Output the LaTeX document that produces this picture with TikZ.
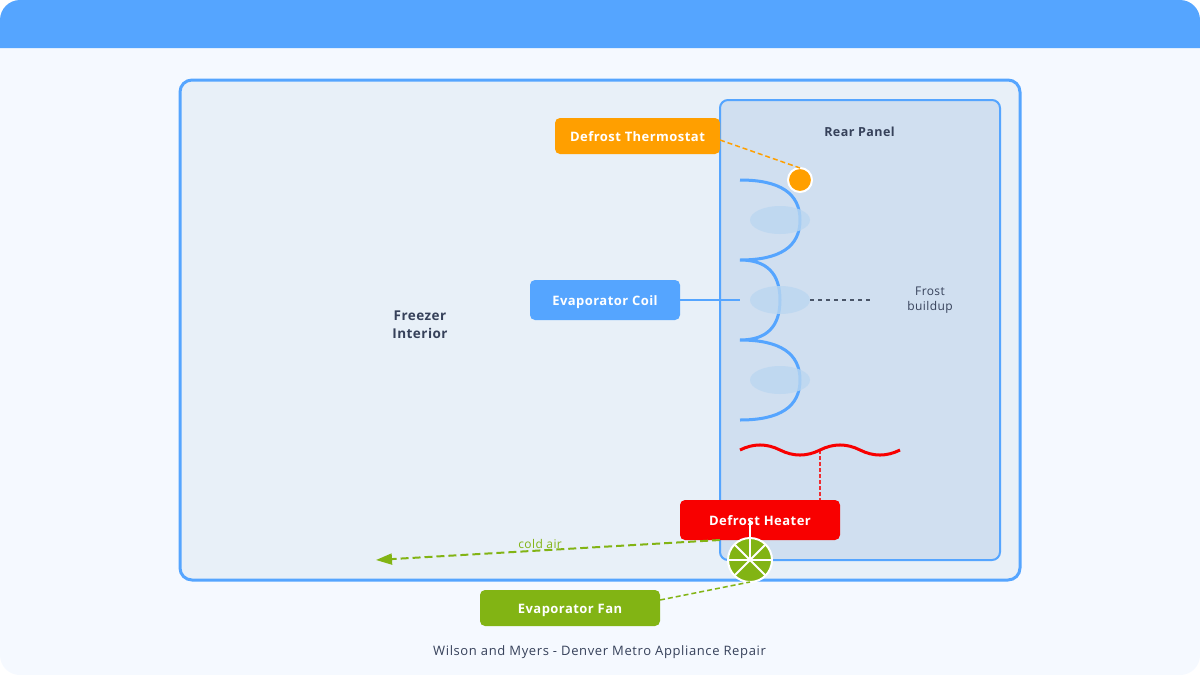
\documentclass[tikz,border=0pt]{standalone}
\usepackage{fontspec}
\setmainfont{Open Sans}
\newfontfamily\boxfont[LetterSpace=3.5]{Open Sans}
\newfontfamily\spacedfont[LetterSpace=3.5]{Open Sans}
\newfontfamily\footfont[LetterSpace=4.8]{Open Sans}
\usepackage{xcolor}
\usetikzlibrary{arrows.meta, shapes.geometric}

\definecolor{coilblue}{HTML}{55A5FF}
\definecolor{cardbg}{HTML}{F5F9FF}
\definecolor{freezerbg}{HTML}{E8F0F8}
\definecolor{rearbg}{HTML}{D0DFF0}
\definecolor{frostfill}{HTML}{BBD7F0}
\definecolor{thermoorange}{HTML}{FF9F00}
\definecolor{heaterred}{HTML}{F80000}
\definecolor{fangreen}{HTML}{82B414}
\definecolor{darktext}{HTML}{36415A}
\definecolor{frostline}{HTML}{4A5568}

\tikzset{
    panel/.style={draw=coilblue, inner sep=0, outer sep=0},
    tagbox/.style={inner sep=0, outer sep=0, rounded corners=5, text=white, text height=10, text depth=0, font=\boxfont\bfseries\fontsize{13}{15}\selectfont},
    frost/.style={ellipse, fill=frostfill, minimum width=60, minimum height=28, inner sep=0, outer sep=0},
    plain/.style={text=darktext, align=center, inner sep=0, font=\spacedfont\fontsize{12}{15}\selectfont},
    spoke/.style={white, line width=2}
}

\begin{document}
\begin{tikzpicture}[x=1pt, y=-1pt]
    \useasboundingbox (0, 0) rectangle (1200, 675);
    \fill[white] (0, 0) rectangle (1200, 675);
    \fill[cardbg, rounded corners=20] (0, 0) rectangle (1200, 675);
    \fill[coilblue] (0, 48) [rounded corners=20] -- (0, 0) -- (1200, 0) [sharp corners] -- (1200, 48) -- cycle;

    \node[panel, line width=3, rounded corners=12, fill=freezerbg, minimum width=840, minimum height=500] (freezer) at (600, 330) {};
    \node[panel, line width=2, rounded corners=8, fill=rearbg, minimum width=280, minimum height=460] (rear) at (860, 330) {};

    \node[plain, font=\spacedfont\bfseries\fontsize{13.5}{18}\selectfont] (interior) at (420, 325) {Freezer\\Interior};
    \node[plain, font=\spacedfont\bfseries\fontsize{12.5}{14}\selectfont] (reartitle) at (859.5, 132) {Rear Panel};

    % coil
    \coordinate (coiltop) at (740, 180);
    \coordinate (coilin) at (740, 300);
    \draw[coilblue, line width=3] (coiltop)
        .. controls (780, 180) and (800, 193.3) .. (800, 220)
        .. controls (800, 246.7) and (780, 260) .. (740, 260)
        .. controls (766.7, 260) and (780, 273.3) .. (780, 300)
        .. controls (780, 326.7) and (766.7, 340) .. (740, 340)
        .. controls (780, 340) and (800, 353.3) .. (800, 380)
        .. controls (800, 406.7) and (780, 420) .. (740, 420);

    \node[frost, opacity=0.8] (frost1) at (780, 220) {};
    \node[frost, opacity=0.8] (frost2) at (780, 300) {};
    \node[frost, opacity=0.8] (frost3) at (780, 380) {};

    \coordinate (frostend) at (870, 300);
    \draw[frostline, line width=1.5, dash pattern=on 4 off 4] (frost2) -- (frostend);
    \node[plain] (frostlabel) at (930, 300) {Frost\\buildup};

    \node[tagbox, fill=coilblue, minimum width=150, minimum height=40] (coil) at (605, 300) {Evaporator Coil};
    \draw[coilblue, line width=2] (coil) -- (coilin);

    % thermostat
    \node[tagbox, fill=thermoorange, minimum width=165, minimum height=36] (thermo) at (637.5, 136) {Defrost Thermostat};
    \node[circle, fill=thermoorange, draw=white, line width=2, minimum size=24, inner sep=0, outer sep=0] (sensor) at (800, 180) {};
    \coordinate (thermoend) at (720, 140);
    \draw[thermoorange, line width=1.5, dash pattern=on 5 off 3] (thermoend) -- (sensor.north);

    % heater
    \coordinate (wavestart) at (740, 450);
    \coordinate (wavedrop) at (820, 450);
    \draw[heaterred, line width=3] (wavestart)
        .. controls (753.3, 443.3) and (766.7, 443.3) .. (780, 450)
        .. controls (793.3, 456.7) and (806.7, 456.7) .. (wavedrop)
        .. controls (833.3, 443.3) and (846.7, 443.3) .. (860, 450)
        .. controls (873.3, 456.7) and (886.7, 456.7) .. (900, 450);
    \node[tagbox, fill=heaterred, minimum width=160, minimum height=40] (heater) at (760, 520) {Defrost Heater};
    \coordinate (heatertop) at (820, 500);
    \draw[heaterred, opacity=0.8, line width=2, dash pattern=on 4 off 2] (wavedrop) -- (heatertop);

    % air flow
    \coordinate (airstart) at (720, 540);
    \coordinate (airend) at (376, 560);
    \draw[fangreen, line width=2, dash pattern=on 8 off 4, -{Triangle[length=16, width=11]}] (airstart) -- node[pos=0.523, above=0, font=\spacedfont\fontsize{12}{14}\selectfont, text=fangreen, inner sep=1] (airlabel) {cold air} (airend);

    % fan
    \node[circle, fill=fangreen, draw=white, line width=2, minimum size=44, inner sep=0, outer sep=0] (fan) at (750, 560) {};
    \draw[spoke] (fan.center) -- (750, 520);
    \foreach \ang in {0, 45, 135, 180, 225, 315} {
        \draw[spoke] (fan.center) -- (fan.\ang);
    }

    \node[tagbox, fill=fangreen, minimum width=180, minimum height=36] (fanbox) at (570, 608) {Evaporator Fan};
    \coordinate (fanboxend) at (660, 600);
    \draw[fangreen, line width=1.5, dash pattern=on 5 off 3] (fanboxend) -- (fan.south);

    \node[plain, font=\footfont\fontsize{13}{15}\selectfont] (footer) at (599.5, 652) {Wilson and Myers - Denver Metro Appliance Repair};
\end{tikzpicture}
\end{document}
